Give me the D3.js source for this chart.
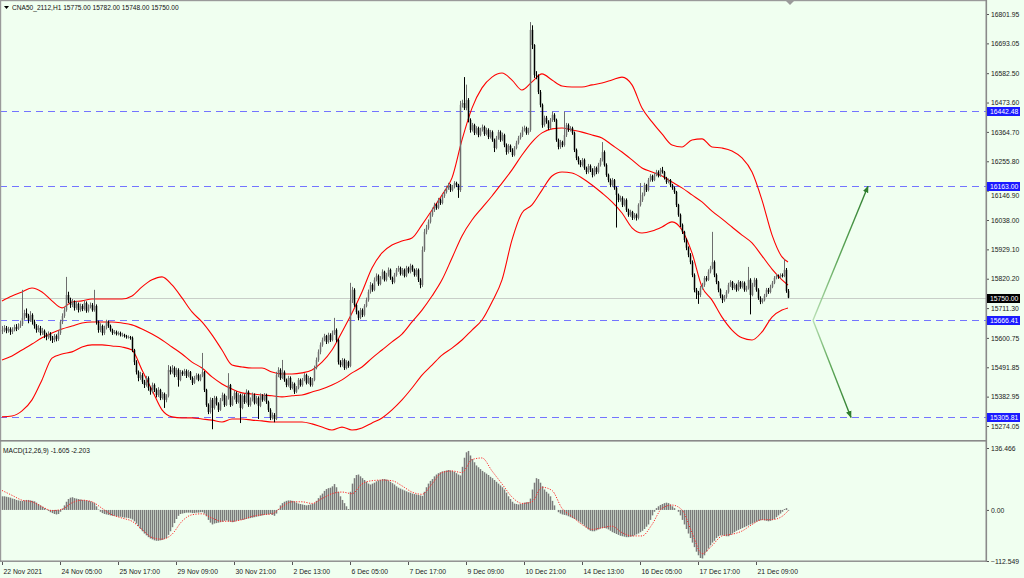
<!DOCTYPE html>
<html><head><meta charset="utf-8">
<script src="https://cdn.jsdelivr.net/npm/d3@7"></script>
<style>
html,body{margin:0;padding:0;background:#f0fff0;}
svg{display:block;font-family:"Liberation Sans",Arial,sans-serif;}
</style></head><body>
<svg id="c" width="1024" height="578"></svg>
<script>
// ---------------- DATA ----------------
const symbol = "CNA50_2112,H1";
const lastOHLC = [15775.00, 15782.00, 15748.00, 15750.00];
const firstOpen = 15625;
const closes = [
15630,15638,15627,15634,15623,15630,15641,15634,15645,15652,
15675,15693,15682,15667,15686,15660,15645,15630,15638,15619,
15627,15612,15604,15615,15601,15593,15608,15597,15619,15660,
15682,15704,15760,15741,15723,15734,15712,15727,15704,15719,
15708,15730,15701,15716,15723,15704,15719,15660,15630,15645,
15619,15638,15660,15645,15630,15619,15623,15615,15619,15612,
15612,15608,15604,15604,15601,15556,15511,15474,15452,15463,
15438,15426,15452,15415,15401,15426,15408,15389,15408,15378,
15393,15371,15386,15482,15474,15489,15463,15482,15445,15474,
15467,15478,15460,15474,15452,15434,15452,15463,15445,15460,
15474,15408,15352,15326,15371,15341,15378,15356,15334,15371,
15389,15352,15378,15426,15352,15378,15397,15363,15389,15341,
15386,15363,15401,15352,15371,15389,15360,15378,15349,15386,
15371,15389,15363,15334,15304,15315,15300,15463,15482,15452,
15474,15445,15426,15452,15415,15430,15401,15415,15445,15426,
15445,15463,15434,15452,15426,15445,15489,15519,15549,15575,
15593,15608,15586,15612,15593,15619,15630,15593,15511,15500,
15519,15489,15511,15497,15741,15779,15723,15697,15675,15704,
15686,15719,15741,15771,15797,15779,15816,15831,15801,15823,
15846,15816,15834,15853,15823,15808,15834,15853,15860,15838,
15853,15831,15860,15846,15868,15853,15834,15853,15816,15797,
15927,15994,16009,16031,16057,16075,16094,16083,16112,16101,
16127,16142,16157,16168,16149,16161,16175,16168,16149,16465,
16472,16453,16483,16409,16372,16390,16361,16379,16353,16372,
16383,16357,16372,16346,16364,16335,16305,16342,16364,16335,
16353,16316,16290,16313,16298,16279,16305,16324,16342,16353,
16372,16379,16361,16372,16743,16687,16576,16572,16513,16465,
16390,16417,16402,16379,16409,16428,16409,16335,16309,16327,
16316,16353,16390,16372,16379,16361,16298,16268,16253,16242,
16261,16231,16216,16238,16224,16205,16231,16216,16242,16261,
16290,16242,16205,16186,16168,16186,16157,16131,16112,16120,
16094,16112,16075,16057,16068,16046,16057,16046,16094,16112,
16131,16168,16149,16186,16201,16186,16205,16216,16201,16224,
16216,16194,16179,16186,16168,16157,16142,16094,16057,16020,
15994,15964,15935,15909,15882,15834,15779,15768,15760,15786,
15797,15823,15816,15846,15860,15882,15834,15808,15779,15757,
15741,15753,15771,15797,15808,15786,15797,15779,15808,15790,
15805,15779,15786,15816,15760,15797,15816,15779,15749,15734,
15741,15757,15779,15771,15790,15805,15823,15831,15827,15834,
15831,15853,15775,15750];
const highs = [
15645,15648,15645,15642,15640,15640,15650,15652,15655,15665,
15779,15705,15710,15690,15700,15692,15668,15652,15648,15645,
15638,15632,15620,15625,15622,15608,15615,15614,15628,15668,
15692,15715,15827,15772,15750,15745,15740,15738,15732,15728,
15726,15740,15736,15725,15732,15730,15779,15725,15665,15655,
15650,15646,15668,15665,15650,15635,15630,15628,15625,15624,
15620,15616,15612,15610,15608,15606,15560,15518,15480,15475,
15470,15445,15460,15458,15420,15435,15432,15414,15418,15412,
15400,15398,15392,15500,15495,15500,15495,15490,15488,15482,
15480,15486,15484,15482,15478,15458,15460,15470,15468,15466,
15545,15478,15412,15358,15380,15378,15386,15384,15362,15378,
15398,15394,15386,15470,15430,15385,15405,15402,15396,15394,
15395,15392,15410,15406,15380,15398,15395,15386,15384,15395,
15392,15396,15394,15368,15340,15324,15322,15475,15492,15488,
15519,15480,15450,15460,15458,15438,15435,15422,15452,15450,
15452,15470,15468,15460,15456,15452,15498,15528,15558,15584,
15602,15616,15612,15620,15618,15628,15675,15636,15598,15518,
15526,15524,15518,15516,15805,15790,15785,15728,15702,15712,
15710,15726,15750,15780,15808,15803,15825,15840,15836,15830,
15855,15850,15842,15862,15858,15828,15842,15860,15868,15865,
15860,15858,15868,15865,15876,15872,15858,15860,15858,15822,
15940,16005,16020,16040,16066,16084,16102,16100,16120,16118,
16135,16150,16165,16176,16172,16168,16182,16180,16172,16480,
16484,16568,16540,16490,16415,16398,16395,16386,16384,16380,
16392,16388,16380,16378,16372,16370,16340,16350,16372,16370,
16362,16358,16322,16320,16318,16304,16312,16332,16350,16362,
16384,16388,16384,16380,16772,16760,16690,16590,16578,16520,
16470,16425,16424,16408,16416,16440,16434,16414,16340,16335,
16332,16440,16398,16396,16386,16384,16366,16303,16274,16260,
16268,16266,16236,16246,16244,16230,16238,16236,16250,16268,
16327,16296,16248,16210,16192,16194,16190,16162,16136,16128,
16126,16118,16118,16080,16076,16072,16064,16062,16100,16175,
16140,16176,16172,16194,16208,16206,16212,16224,16222,16231,
16235,16220,16198,16192,16190,16172,16162,16146,16098,16062,
16025,15998,15970,15940,15915,15888,15840,15786,15775,15794,
15805,15830,15830,15855,15868,15994,15888,15840,15812,15784,
15762,15760,15778,15805,15815,15812,15804,15802,15815,15812,
15812,15810,15794,15864,15822,15805,15824,15822,15785,15755,
15748,15764,15786,15786,15798,15812,15830,15838,15836,15840,
15840,15893,15860,15782];
const lows = [
15615,15622,15618,15620,15612,15615,15625,15626,15630,15638,
15645,15668,15675,15655,15660,15650,15635,15620,15622,15610,
15612,15600,15592,15596,15590,15582,15585,15588,15590,15612,
15652,15675,15698,15730,15712,15715,15702,15705,15695,15698,
15700,15702,15694,15695,15710,15698,15698,15650,15620,15622,
15610,15612,15632,15638,15624,15612,15614,15610,15610,15606,
15605,15602,15598,15598,15594,15548,15500,15465,15440,15445,
15430,15415,15420,15405,15390,15395,15400,15380,15382,15370,
15372,15341,15362,15380,15465,15468,15455,15456,15420,15440,
15460,15460,15452,15455,15445,15426,15430,15446,15440,15440,
15455,15400,15345,15318,15320,15262,15335,15350,15326,15330,
15366,15345,15348,15372,15345,15348,15372,15356,15358,15285,
15336,15356,15358,15345,15346,15365,15354,15355,15300,15344,
15364,15366,15356,15326,15296,15298,15288,15296,15455,15445,
15448,15438,15418,15420,15408,15410,15393,15396,15410,15420,
15420,15440,15428,15430,15420,15420,15440,15484,15512,15540,
15568,15588,15578,15580,15586,15588,15612,15585,15502,15492,
15494,15482,15484,15490,15492,15730,15716,15688,15666,15670,
15678,15680,15714,15735,15765,15772,15774,15810,15794,15796,
15818,15810,15810,15828,15816,15800,15803,15828,15846,15832,
15832,15825,15826,15840,15840,15846,15828,15828,15808,15785,
15790,15920,15985,16002,16025,16050,16068,16076,16078,16094,
16096,16120,16136,16150,16142,16144,16155,16160,16120,16142,
16455,16446,16445,16400,16362,16366,16353,16355,16345,16348,
16366,16350,16352,16338,16340,16328,16290,16300,16336,16328,
16330,16308,16280,16284,16290,16272,16274,16300,16318,16336,
16346,16366,16354,16354,16365,16672,16565,16560,16505,16456,
16380,16384,16395,16372,16374,16402,16402,16328,16300,16302,
16308,16310,16346,16365,16366,16354,16290,16260,16244,16234,
16236,16224,16208,16210,16216,16196,16200,16208,16210,16236,
16255,16236,16198,16178,16160,16162,16150,16010,16104,16106,
16086,16088,16068,16050,16050,16038,16040,16036,16040,16088,
16105,16126,16142,16144,16180,16180,16182,16200,16196,16198,
16210,16188,16172,16174,16160,16150,16135,16086,16050,16012,
15986,15955,15926,15900,15874,15826,15770,15745,15727,15752,
15780,15790,15810,15812,15840,15855,15826,15800,15770,15748,
15730,15735,15746,15765,15790,15778,15780,15772,15774,15783,
15784,15772,15772,15780,15688,15755,15790,15772,15742,15726,
15728,15736,15752,15764,15766,15785,15800,15818,15820,15822,
15825,15826,15768,15748];

// Bollinger bands, read every 5 bars (plus the last bar)
const bbUpper = [15738,15756,15771,15786,15771,15738,15712,15734,15738,15745,
15745,15745,15745,15756,15790,15816,15827,15797,15749,15697,
15660,15612,15556,15500,15493,15489,15489,15474,15467,15467,
15471,15482,15511,15556,15623,15693,15771,15860,15916,15945,
15960,15971,16020,16075,16131,16194,16335,16453,16528,16568,
16583,16557,16520,16550,16580,16557,16535,16531,16531,16539,
16546,16557,16568,16539,16453,16402,16357,16316,16309,16335,
16339,16309,16305,16294,16268,16216,16112,15983,15901,15882];
const bbMiddle = [15519,15534,15556,15578,15601,15619,15634,15645,15656,15660,
15660,15660,15656,15649,15634,15615,15593,15567,15541,15511,
15489,15456,15430,15411,15397,15393,15389,15386,15382,15386,
15389,15400,15411,15426,15445,15471,15493,15526,15556,15586,
15615,15660,15704,15756,15816,15897,15979,16038,16083,16127,
16175,16224,16279,16327,16361,16376,16379,16372,16364,16353,
16342,16316,16290,16261,16231,16216,16201,16179,16157,16131,
16105,16071,16042,16012,15982,15953,15905,15856,15816,15797];
const bbLower = [15308,15311,15330,15371,15445,15526,15541,15549,15567,15575,
15575,15571,15567,15556,15482,15408,15334,15308,15304,15304,
15300,15296,15289,15300,15300,15296,15293,15289,15289,15289,
15289,15282,15270,15259,15270,15259,15267,15285,15304,15334,
15371,15415,15463,15500,15537,15563,15593,15630,15667,15734,
15816,15964,16064,16094,16149,16201,16216,16212,16194,16168,
16138,16105,16064,16009,15990,15997,16012,16031,16001,15916,
15790,15741,15678,15630,15601,15593,15623,15678,15704,15712];

// MACD main (histogram), one per bar
const macd = [30,30,29,28,27,25,24,22,21,20,20,21,22,22,21,20,19,16,13,10,7,4,
1,-2,-5,-7,-9,-10,-9,-4,3,10,18,24,27,28,26,25,24,23,22,22,21,20,19,17,15,
8,1,-4,-7,-9,-10,-11,-12,-13,-13,-14,-15,-15,-16,-17,-17,-18,-19,-21,
-25,-30,-36,-42,-47,-52,-56,-60,-63,-65,-67,-68,-68,-67,-66,-64,-62,
-55,-47,-38,-29,-20,-13,-9,-8,-7,-6,-6,-6,-7,-7,-6,-6,-5,-5,
-8,-14,-22,-28,-32,-30,-29,-28,-27,-26,-24,-23,-25,-26,-27,-26,
-24,-23,-22,-22,-21,-20,-19,-18,-17,-16,-15,-14,-13,-12,-11,-10,-10,
-9,-11,-13,-8,2,10,15,18,20,21,21,20,19,16,14,13,12,11,10,11,12,13,15,
20,26,32,36,42,46,48,49,52,57,50,40,30,22,15,8,2,40,58,70,
77,78,74,70,66,62,58,56,58,60,63,65,66,68,68,67,65,62,59,56,52,49,47,
45,43,41,39,38,36,35,34,33,32,31,40,50,58,64,68,
74,78,81,83,85,86,87,88,87,86,84,81,78,76,95,115,127,130,
120,112,105,98,94,90,86,83,80,77,73,70,66,62,58,54,50,
45,38,30,24,18,14,13,12,13,14,16,17,17,25,45,60,70,68,
60,52,45,40,36,30,20,10,0,-5,-8,-10,-11,-12,-14,
-16,-18,-20,-22,-25,-28,-31,-35,-39,-43,-46,-47,-47,
-45,-43,-41,-40,-40,-41,-43,-46,-49,-51,-53,-55,-57,-58,-59,-60,-60,-59,-58,
-56,-54,-52,-49,-46,-42,-37,-32,-22,-12,-4,4,8,11,13,15,16,15,
12,8,4,0,-4,-12,-22,-32,-42,-52,-62,-72,-82,-92,-100,-106,-107,
-100,-92,-85,-78,-72,-68,-62,-58,-56,-56,-57,-58,-58,
-55,-52,-49,-46,-44,-42,-40,-38,-36,-34,-32,-30,-28,
-26,-24,-23,-22,-23,-24,-25,-24,-22,-20,-16,-12,-8,-4,2,4,-1.605];
// MACD signal, read every 5 bars (plus the last bar)
const signal = [42.9,32.2,21.5,17.9,7.2,-1.4,1.4,15.7,21.5,17.9,
3.6,-10.7,-17.9,-25,-42.9,-60.8,-64.4,-53.7,-25,-10.7,
-8.6,-17.9,-25,-25,-21.5,-14.3,-10.7,-8.6,7.2,17.9,
17.9,14.3,25,35.8,39.4,35.8,57.3,64.4,65.8,64.4,
53,39.4,34.4,57.3,82.3,85.9,82.3,111,114.5,85.9,
57.3,28.6,14.3,17.9,50,42.9,3.6,-14.3,-32.2,-42.9,
-39.4,-35.8,-50,-57.3,-57.3,-32.2,3.6,10.7,0,-50,
-96.6,-78.7,-57.3,-53.7,-46.5,-32.2,-21.5,-21.5,-14.3,-2.203];

const priceTicks = [16801.95,16693.05,16582.50,16473.60,16364.70,16255.80,16146.90,16038.00,15929.10,15820.20,15711.30,15600.75,15491.85,15382.95,15274.05];
const levels = [16442.48,16163.00,15666.41,15305.81];
const macdTicks = [136.466, 0, -112.549];
const timeTickBars = [0,29,58,87,116,145,174,203,232,261,290,319,348,377];
const timeLabels = ["22 Nov 2021","24 Nov 05:00","25 Nov 17:00","29 Nov 09:00","30 Nov 21:00","2 Dec 13:00","6 Dec 05:00","7 Dec 17:00","9 Dec 09:00","10 Dec 21:00","14 Dec 13:00","16 Dec 05:00","17 Dec 17:00","21 Dec 09:00"];
const macdName = "MACD(12,26,9)";
const macdLast = [-1.605, -2.203];
// scenario arrows: [bar index, price]
const arrowFrom = [405.5, 15666.41];
const arrowTargets = [[433, 16163.00], [424.5, 15305.81]];

// ---------------- CHART ----------------
const W = 1024, H = 578, axisX = 986, mainBottom = 440, macdTop = 442, macdBottom = 561;
const svg = d3.select("#c");
const x = d3.scaleLinear().domain([0, 493]).range([2, 988]);
const y = d3.scaleLinear().domain([15274.05, 16801.95]).range([426, 14]);
const ym = d3.scaleLinear().domain([-112.549, 136.466]).range([561, 448]);
const fmt2 = d3.format(".2f");
const FS = 6.8;

svg.append("rect").attr("width", W).attr("height", H).attr("fill", "#f0fff0");
const defs = svg.append("defs");
defs.append("clipPath").attr("id", "clipMain").append("rect").attr("x", 0).attr("y", 0).attr("width", axisX).attr("height", mainBottom);
defs.append("clipPath").attr("id", "clipMacd").append("rect").attr("x", 0).attr("y", macdTop).attr("width", axisX).attr("height", macdBottom - macdTop);

const main = svg.append("g").attr("clip-path", "url(#clipMain)");
// bid line
main.append("line").attr("x1", 0).attr("x2", axisX)
  .attr("y1", Math.round(y(lastOHLC[3])) + 0.5).attr("y2", Math.round(y(lastOHLC[3])) + 0.5)
  .attr("stroke", "#c8cec8").attr("stroke-width", 1);
// level lines
main.selectAll("line.lvl").data(levels).join("line").attr("class", "lvl")
  .attr("x1", 0).attr("x2", axisX)
  .attr("y1", d => Math.round(y(d)) + 0.5).attr("y2", d => Math.round(y(d)) + 0.5)
  .attr("stroke", "#7474ff").attr("stroke-width", 1).attr("stroke-dasharray", "7,5");

// bollinger bands
const bandIdx = d3.range(0, 391, 5).concat([393]);
const bandLine = d3.line().x((d, k) => x(bandIdx[k])).y(d => y(d)).curve(d3.curveMonotoneX);
[bbUpper, bbMiddle, bbLower].forEach(arr => {
  main.append("path").datum(arr).attr("d", bandLine).attr("fill", "none")
    .attr("stroke", "#ff0000").attr("stroke-width", 1.1);
});

// candles
const bars = closes.map((c, i) => {
  const o = i ? closes[i - 1] : firstOpen;
  return { i, o, c, h: Math.max(highs[i], o, c), l: Math.min(lows[i], o, c) };
});
const bull = "#6e6e6e", bear = "#000000";
const cg = main.append("g");
cg.selectAll("line").data(bars).join("line")
  .attr("x1", d => x(d.i) + 0.5).attr("x2", d => x(d.i) + 0.5)
  .attr("y1", d => y(d.h)).attr("y2", d => y(d.l))
  .attr("stroke", d => d.c >= d.o ? bull : bear).attr("stroke-width", 1);
cg.selectAll("rect").data(bars).join("rect")
  .attr("x", d => x(d.i) - 0.25).attr("width", 1.5)
  .attr("y", d => y(Math.max(d.o, d.c)))
  .attr("height", d => Math.max(1, Math.abs(y(d.o) - y(d.c))))
  .attr("fill", d => d.c >= d.o ? bull : bear);

// arrows
defs.append("marker").attr("id", "ah").attr("viewBox", "0 0 10 10").attr("refX", 9).attr("refY", 5)
  .attr("markerWidth", 7).attr("markerHeight", 7).attr("markerUnits", "userSpaceOnUse").attr("orient", "auto")
  .append("path").attr("d", "M0,1L10,5L0,9Z").attr("fill", "#2e7d2e");
arrowTargets.forEach((t, k) => {
  const x1 = x(arrowFrom[0]), y1 = y(arrowFrom[1]), x2 = x(t[0]), y2 = y(t[1]);
  const g = defs.append("linearGradient").attr("id", "ag" + k).attr("gradientUnits", "userSpaceOnUse")
    .attr("x1", x1).attr("y1", y1).attr("x2", x2).attr("y2", y2);
  g.append("stop").attr("offset", 0).attr("stop-color", "#b9e0b4");
  g.append("stop").attr("offset", 0.45).attr("stop-color", "#5fa85a");
  g.append("stop").attr("offset", 1).attr("stop-color", "#2e7d2e");
  main.append("line").attr("x1", x1).attr("y1", y1).attr("x2", x2).attr("y2", y2)
    .attr("stroke", `url(#ag${k})`).attr("stroke-width", 1.4).attr("marker-end", "url(#ah)");
});

// header
svg.append("path").attr("d", "M4,6L9,6L6.5,9Z").attr("fill", "#000");
svg.append("text").attr("x", 12).attr("y", 8).attr("dy", "0.35em").attr("font-size", 6.6).attr("fill", "#111")
  .text(`${symbol}  ${lastOHLC.map(fmt2).join(" ")}`);
svg.append("path").attr("d", "M785,0L795,0L790,5Z").attr("fill", "#9a9a9a");

// MACD panel
const mg = svg.append("g").attr("clip-path", "url(#clipMacd)");
mg.selectAll("line").data(macd).join("line")
  .attr("x1", (d, i) => x(i) + 0.5).attr("x2", (d, i) => x(i) + 0.5)
  .attr("y1", ym(0)).attr("y2", d => ym(d))
  .attr("stroke", "#7a7a7a").attr("stroke-width", 1.5);
const sigLine = d3.line().x((d, k) => x(bandIdx[k])).y(d => ym(d)).curve(d3.curveMonotoneX);
mg.append("path").datum(signal).attr("d", sigLine).attr("fill", "none")
  .attr("stroke", "#ff2a2a").attr("stroke-width", 1).attr("stroke-dasharray", "1.2,1.4");
svg.append("text").attr("x", 3).attr("y", 451).attr("dy", "0.35em").attr("font-size", 6.6).attr("fill", "#111")
  .text(`${macdName} ${macdLast[0].toFixed(3)} ${macdLast[1].toFixed(3)}`);

// frames
svg.append("rect").attr("x", 0).attr("y", 0).attr("width", axisX).attr("height", 1.2).attr("fill", "#9a9a9a");
svg.append("rect").attr("x", 0).attr("y", 0).attr("width", 1.2).attr("height", macdBottom).attr("fill", "#9a9a9a");
svg.append("rect").attr("x", 0).attr("y", mainBottom).attr("width", axisX + 1).attr("height", 1.6).attr("fill", "#8a8a8a");
svg.append("rect").attr("x", 0).attr("y", macdBottom - 0.5).attr("width", axisX + 1).attr("height", 1.4).attr("fill", "#8a8a8a");
svg.append("rect").attr("x", axisX - 0.5).attr("y", 0).attr("width", 1.6).attr("height", macdBottom + 1).attr("fill", "#8a8a8a");

// price axis
const styleAxis = g => {
  g.select(".domain").remove();
  g.selectAll(".tick line").attr("stroke", "#555");
  g.selectAll(".tick text").attr("font-size", FS).attr("fill", "#1a1a1a").attr("font-family", "Liberation Sans, Arial, sans-serif");
};
svg.append("g").attr("transform", `translate(${axisX + 1},0)`)
  .call(d3.axisRight(y).tickValues(priceTicks).tickFormat(fmt2).tickSize(2).tickPadding(2))
  .call(styleAxis)
  // the tick label sitting under the 16163.00 level label peeks out just below it
  .call(g => g.selectAll(".tick text").filter(d => Math.abs(y(d) - y(levels[1])) < 8).attr("y", 4.5));
svg.append("g").attr("transform", `translate(${axisX + 1},0)`)
  .call(d3.axisRight(ym).tickValues(macdTicks).tickFormat(d => d === 0 ? "0.00" : d3.format(".3f")(d)).tickSize(2).tickPadding(2))
  .call(styleAxis);

// level labels
const lab = svg.append("g");
levels.forEach(v => {
  const yy = Math.round(y(v));
  lab.append("rect").attr("x", axisX + 1).attr("y", yy - 4).attr("width", 33).attr("height", 9).attr("fill", "#1a1aff");
  lab.append("text").attr("x", axisX + 4).attr("y", yy + 0.5).attr("dy", "0.35em").attr("font-size", FS).attr("fill", "#fff").text(fmt2(v));
});
{
  const yy = Math.round(y(lastOHLC[3]));
  lab.append("rect").attr("x", axisX + 1).attr("y", yy - 4).attr("width", 33).attr("height", 9).attr("fill", "#000");
  lab.append("text").attr("x", axisX + 4).attr("y", yy + 0.5).attr("dy", "0.35em").attr("font-size", FS).attr("fill", "#fff").text(fmt2(lastOHLC[3]));
}

// time axis
svg.append("g").attr("transform", `translate(0,${macdBottom + 1})`)
  .call(d3.axisBottom(x).tickValues(timeTickBars).tickFormat((d, k) => timeLabels[k]).tickSize(3).tickPadding(2))
  .call(g => {
    g.select(".domain").remove();
    g.selectAll(".tick line").attr("stroke", "#555");
    g.selectAll(".tick text").attr("text-anchor", "start").attr("dx", 1).attr("y", 10).attr("dy", "0.35em")
      .attr("font-size", FS).attr("fill", "#1a1a1a").attr("font-family", "Liberation Sans, Arial, sans-serif");
  });
</script>
</body></html>
